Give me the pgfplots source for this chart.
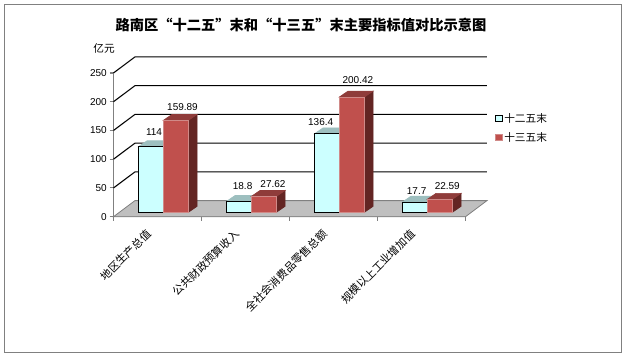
\documentclass[border=0pt]{standalone}
\usepackage{pgfplots}
\pgfplotsset{compat=1.18}
\usepackage{fontspec}
\setmainfont{Liberation Sans}
\newfontfamily\cjk{Noto Sans CJK SC}
\definecolor{cyanF}{HTML}{CCFFFF}
\definecolor{cyanT}{HTML}{9DBFBF}
\definecolor{redF}{HTML}{C0504D}
\definecolor{redE}{HTML}{D08A88}
\definecolor{redT}{HTML}{8F3C3A}
\definecolor{redS}{HTML}{632523}
\definecolor{floorC}{HTML}{BFBFBF}
\definecolor{frameC}{HTML}{808080}
% x in category units (88px), y in value units (0.575px)
\newcommand{\threedbar}[5]{%
  \pgfmathsetmacro\xa{#1}%
  \pgfmathsetmacro\xb{#1+0.284}%
  \pgfmathsetmacro\xc{#1+0.383}%
  \pgfmathsetmacro\xd{#1+0.099}%
  \pgfmathsetmacro\yb{#2+7.6}%
  \pgfmathsetmacro\yc{#2+18}%
  \edef\temp{%
    \noexpand\addplot[fill=#5,draw=#5,line width=0.5pt] coordinates {(\xb,7.6) (\xc,18) (\xc,\yc) (\xb,\yb)} --cycle;
    \noexpand\addplot[fill=#4,draw=#4,line width=0.5pt] coordinates {(\xa,\yb) (\xb,\yb) (\xc,\yc) (\xd,\yc)} --cycle;
  }\temp
}
\begin{document}
\begin{tikzpicture}
\path[use as bounding box] (0,0) rectangle (470.25pt,-267.75pt);
\coordinate (O) at (85.125pt,-162.525pt);
\draw[frameC,line width=1pt] (3.375pt,-3.375pt) rectangle (466.125pt,-264.375pt);
\node[font=\cjk\fontsize{10.7}{12}\selectfont\bfseries,anchor=center] at (225.75pt,-18.75pt) {路南区“十二五”末和“十三五”末主要指标值对比示意图};
\node[font=\cjk\fontsize{8}{10}\selectfont,anchor=center] at (78pt,-36pt) {亿元};
\begin{axis}[
  at={(O)},anchor=origin,
  scale only axis,width=264pt,height=107.8pt,
  xmin=0,xmax=4,ymin=0,ymax=250,clip=false,
  axis x line*=bottom,axis y line*=left,
  axis line style={frameC,line width=0.8pt,-},
  ytick={0,50,100,150,200,250},
  xtick={0.5,1.5,2.5,3.5},
  xticklabels={地区生产总值,公共财政预算收入,全社会消费品零售总额,规模以上工业增加值},
  minor xtick={0,1,2,3,4},
  major tick length=3pt,minor tick length=3pt,
  x tick style={draw=none},
  minor x tick style={draw=frameC,line width=0.8pt},
  y tick style={draw=frameC,line width=0.8pt},
  ytick pos=left,
  tick align=outside,
  tick label style={font=\fontsize{7.5}{9}\selectfont},
  /pgf/number format/assume math mode=true,
  yticklabel style={xshift=1.5pt},
  xticklabel style={font=\cjk\fontsize{8.2}{10}\selectfont,rotate=45,anchor=north east,xshift=-7pt,yshift=6pt},
  legend style={at={(1.084,0.732)},anchor=north west,draw=none,fill=none,row sep=4pt,
    font=\cjk\fontsize{8}{10}\selectfont,inner sep=0pt,nodes={inner sep=1pt}},
  legend cell align=left,
  every axis plot/.append style={forget plot},
]
% floor
\addplot[fill=floorC,draw=frameC,line width=0.6pt] coordinates {(0,0) (0.2443,28) (4.2443,28) (4,0)} --cycle;
% back grid lines
\addplot[black,line width=0.8pt] coordinates {(0,50) (0.2443,78) (4.2443,78)};
\addplot[black,line width=0.8pt] coordinates {(0,100) (0.2443,128) (4.2443,128)};
\addplot[black,line width=0.8pt] coordinates {(0,150) (0.2443,178) (4.2443,178)};
\addplot[black,line width=0.8pt] coordinates {(0,200) (0.2443,228) (4.2443,228)};
\addplot[black,line width=0.8pt] coordinates {(0,250) (0.2443,278) (4.2443,278)};
% bars
\threedbar{0.282}{114}{cyanF}{cyanT}{cyanT}
\threedbar{0.566}{159.89}{redF}{redT}{redS}
\threedbar{1.282}{18.8}{cyanF}{cyanT}{cyanT}
\threedbar{1.566}{27.62}{redF}{redT}{redS}
\threedbar{2.282}{136.4}{cyanF}{cyanT}{cyanT}
\threedbar{2.566}{200.42}{redF}{redT}{redS}
\threedbar{3.282}{17.7}{cyanF}{cyanT}{cyanT}
\threedbar{3.566}{22.59}{redF}{redT}{redS}
% front faces
\addplot[fill=cyanF,draw=black,line width=0.8pt] coordinates {(0.282,7.6) (0.566,7.6) (0.566,121.6) (0.282,121.6)} --cycle;
\addplot[fill=redF,draw=redE,line width=0.8pt] coordinates {(0.566,7.6) (0.85,7.6) (0.85,167.49) (0.566,167.49)} --cycle;
\addplot[fill=cyanF,draw=black,line width=0.8pt] coordinates {(1.282,7.6) (1.566,7.6) (1.566,26.4) (1.282,26.4)} --cycle;
\addplot[fill=redF,draw=redE,line width=0.8pt] coordinates {(1.566,7.6) (1.85,7.6) (1.85,35.22) (1.566,35.22)} --cycle;
\addplot[fill=cyanF,draw=black,line width=0.8pt] coordinates {(2.282,7.6) (2.566,7.6) (2.566,144) (2.282,144)} --cycle;
\addplot[fill=redF,draw=redE,line width=0.8pt] coordinates {(2.566,7.6) (2.85,7.6) (2.85,208.02) (2.566,208.02)} --cycle;
\addplot[fill=cyanF,draw=black,line width=0.8pt] coordinates {(3.282,7.6) (3.566,7.6) (3.566,25.3) (3.282,25.3)} --cycle;
\addplot[fill=redF,draw=redE,line width=0.8pt] coordinates {(3.566,7.6) (3.85,7.6) (3.85,30.19) (3.566,30.19)} --cycle;
% value labels
\begin{scope}[every node/.style={font=\fontsize{7.5}{9}\selectfont,inner sep=0pt}]
\node at (axis cs:0.460,147.3) {114};
\node at (axis cs:0.784,190.3) {159.89};
\node at (axis cs:1.467,53.4) {18.8};
\node at (axis cs:1.812,56.9) {27.62};
\node at (axis cs:2.354,164.2) {136.4};
\node at (axis cs:2.777,237.7) {200.42};
\node at (axis cs:3.445,44.2) {17.7};
\node at (axis cs:3.793,53.4) {22.59};
\end{scope}
% legend
\addlegendimage{legend image code/.code={\draw[fill=cyanF,draw=black,line width=0.7pt] (0pt,-2.5pt) rectangle (5pt,2.5pt);}}
\addlegendentry{十二五末}
\addlegendimage{legend image code/.code={\draw[fill=redF,draw=redE,line width=0.7pt] (0pt,-2.5pt) rectangle (5pt,2.5pt);}}
\addlegendentry{十三五末}
\end{axis}
\end{tikzpicture}
\end{document}
